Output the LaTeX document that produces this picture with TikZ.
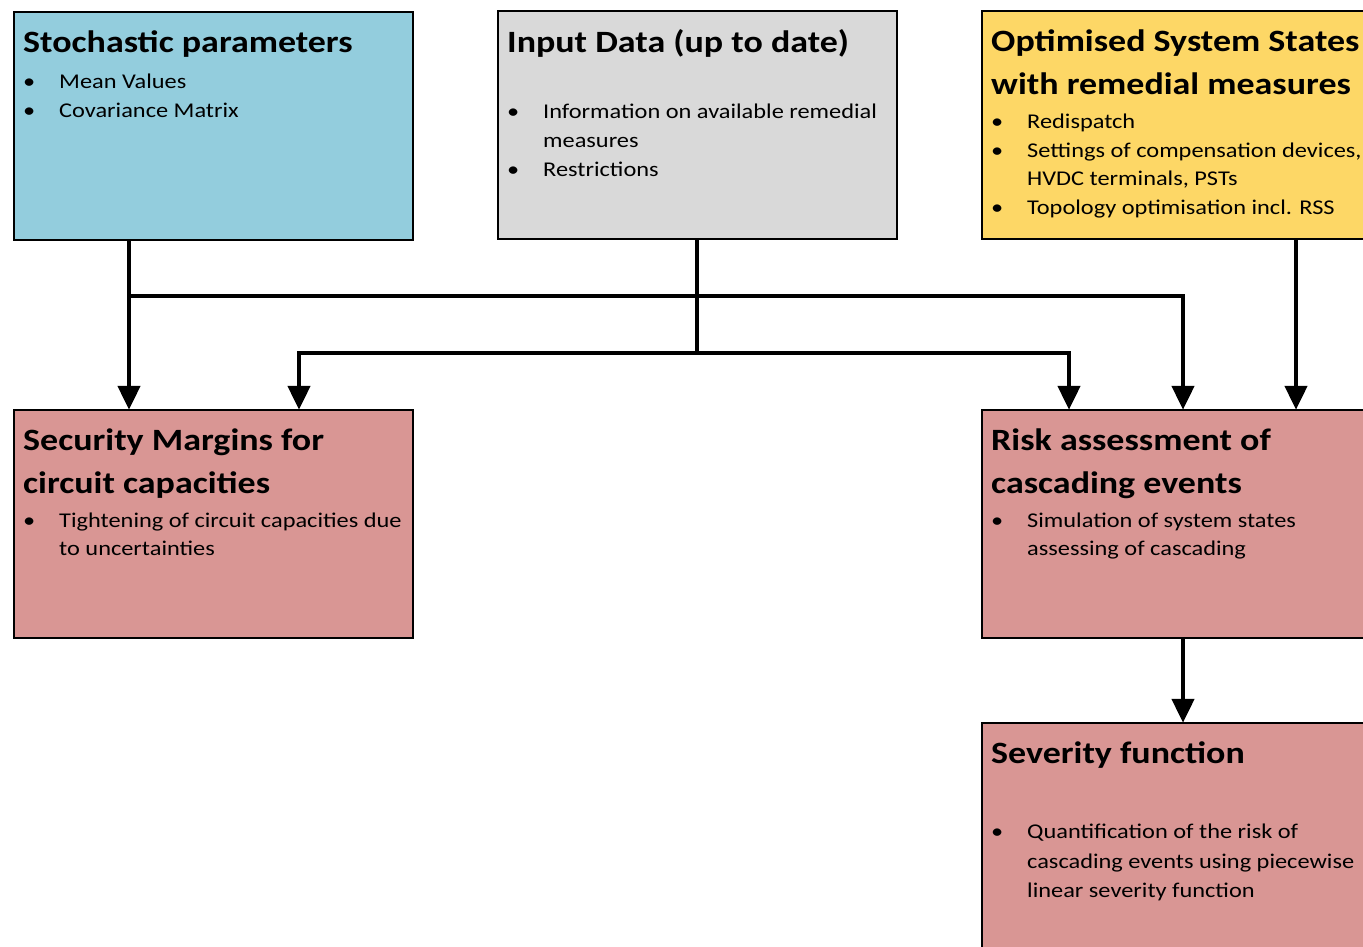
\documentclass[tikz,border=0pt]{standalone}
\usepackage{fontspec}
\setmainfont{Carlito}[FakeStretch=1.16]
\usetikzlibrary{arrows.meta}

\definecolor{stochblue}{HTML}{93CDDD}
\definecolor{inputgrey}{HTML}{D9D9D9}
\definecolor{optyellow}{HTML}{FDD766}
\definecolor{resultred}{HTML}{D99694}

\newcommand\bul{\makebox[36pt][l]{•}}

\tikzset{
  box/.style={draw=black, line width=2.8pt, line join=miter, rectangle, inner sep=0pt},
  ttl/.style={anchor=base west, inner sep=0pt, font=\fontsize{31}{43}\selectfont\bfseries},
  txt/.style={anchor=base west, inner sep=0pt, font=\fontsize{21}{29}\selectfont},
  link/.style={line width=4.5pt, line join=miter, -{Triangle[length=24pt,width=22pt]}},
  wire/.style={line width=4.5pt, line join=miter},
}

\begin{document}
\begin{tikzpicture}[x=1pt, y=-1pt]
\clip (0,0) rectangle (1363,946);
\fill[white] (0,0) rectangle (1363,946);

% boxes
\draw[box, fill=stochblue] (14,12) rectangle (413,240);
\node[inner sep=0pt] (stoch) at (213.5,126) [minimum width=399pt, minimum height=228pt] {};
\draw[box, fill=inputgrey] (498,11) rectangle (897,239);
\node[inner sep=0pt] (input) at (697.5,125) [minimum width=399pt, minimum height=228pt] {};
\draw[box, fill=optyellow] (982,11) rectangle (1390,239);
\node[inner sep=0pt] (opt) at (1186,125) [minimum width=408pt, minimum height=228pt] {};
\draw[box, fill=resultred] (14,410) rectangle (413,638);
\node[inner sep=0pt] (secm) at (213.5,524) [minimum width=399pt, minimum height=228pt] {};
\draw[box, fill=resultred] (982,410) rectangle (1390,638);
\node[inner sep=0pt] (risk) at (1186,524) [minimum width=408pt, minimum height=228pt] {};
\draw[box, fill=resultred] (982,723) rectangle (1390,990);
\node[inner sep=0pt] (sev) at (1186,856.5) [minimum width=408pt, minimum height=267pt] {};

% stochastic parameters
\node[ttl] (t1) at (23,52) {Stochastic parameters};
\node[txt] (l1a) at (23,88) {\bul Mean Values};
\node[txt] (l1b) at (23,117) {\bul Covariance Matrix};

% input data
\node[ttl] (t2) at (507,52) {Input Data (up to date)};
\node[txt] (l2a) at (507,118) {\bul Information on available remedial};
\node[txt] (l2b) at (543,147) {measures};
\node[txt] (l2c) at (507,176) {\bul Restrictions};

% optimised system states
\node[ttl] (t3a) at (991,51) {Optimised System States};
\node[ttl] (t3b) at (991,94) {with remedial measures};
\node[txt] (l3a) at (991,128) {\bul Redispatch};
\node[txt] (l3b) at (991,157) {\bul Settings of compensation devices,};
\node[txt] (l3c) at (1027,185) {HVDC terminals, PSTs};
\node[txt] (l3d) at (991,214) {\bul Topology optimisation incl. RSS};

% security margins
\node[ttl] (t4a) at (23,450) {Security Margins for};
\node[ttl] (t4b) at (23,493) {circuit capacities};
\node[txt] (l4a) at (23,527) {\bul Tightening of circuit capacities due};
\node[txt] (l4b) at (59,555) {to uncertainties};

% risk assessment
\node[ttl] (t5a) at (991,450) {Risk assessment of};
\node[ttl] (t5b) at (991,493) {cascading events};
\node[txt] (l5a) at (991,527) {\bul Simulation of system states};
\node[txt] (l5b) at (1027,555) {assessing of cascading};

% severity function
\node[ttl] (t6) at (991,763) {Severity function};
\node[txt] (l6a) at (991,838) {\bul Quantification of the risk of};
\node[txt] (l6b) at (1027,868) {cascading events using piecewise};
\node[txt] (l6c) at (1027,897) {linear severity function};

% connector columns and bus rows
\coordinate (xa) at (129,0);
\coordinate (xg) at (697,0);
\coordinate (xo) at (1296,0);
\coordinate (xr) at (1183,0);
\coordinate (bus1) at (1183,296);
\coordinate (bus2l) at (299,353);
\coordinate (bus2r) at (1069,353);

% connectors
\draw[link] (stoch.south -| xa) -- (secm.north -| xa);
\draw[link] (stoch.south -| xa) |- (bus1) -- (risk.north -| bus1);
\draw[wire] (input.south -| xg) -- (xg |- bus2l);
\draw[link] (xg |- bus2l) -- (bus2l) -- (secm.north -| bus2l);
\draw[link] (xg |- bus2r) -- (bus2r) -- (risk.north -| bus2r);
\draw[link] (opt.south -| xo) -- (risk.north -| xo);
\draw[link] (risk.south -| xr) -- (sev.north -| xr);
\end{tikzpicture}
\end{document}
